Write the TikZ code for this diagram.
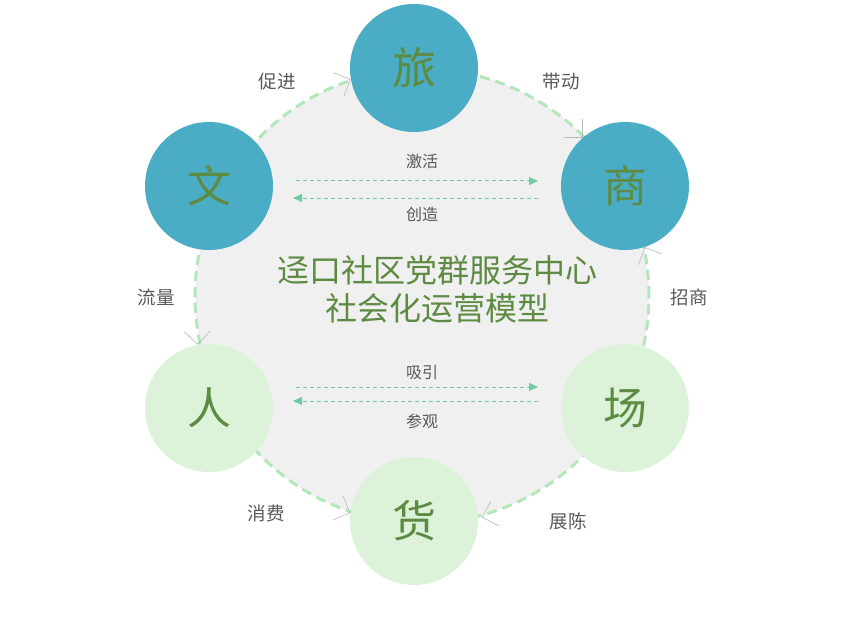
\documentclass[tikz,border=0pt]{standalone}
\usepackage{fontspec}
\setmainfont{Noto Sans CJK SC}
\usetikzlibrary{arrows.meta}
\definecolor{tealblue}{HTML}{4BACC6}
\definecolor{palegreen}{HTML}{DCF3DA}
\definecolor{hubgray}{HTML}{F0F0F0}
\definecolor{ringgreen}{HTML}{B3E6B8}
\definecolor{leafgreen}{HTML}{5E8B42}
\definecolor{mint}{HTML}{6FCBA2}
\definecolor{labelgray}{HTML}{595959}
\begin{document}
\begin{tikzpicture}[x=1pt, y=1pt,
		stage/.style={circle, minimum size=128pt, inner sep=0pt, text=leafgreen, font=\fontsize{44}{44}\selectfont},
		upper/.style={stage, fill=tealblue},
		lower/.style={stage, fill=palegreen},
		tag/.style={text=labelgray, font=\fontsize{18.5}{18.5}\selectfont},
		innertag/.style={text=labelgray, font=\fontsize{16}{16}\selectfont},
		flowtip/.style={draw=gray!55, line width=0.6pt, -{Straight Barb[length=13pt, width=26pt, line width=0.6pt]}},
		innerflow/.style={draw=mint, line width=1pt, dash pattern=on 4pt off 3pt, -{Triangle[length=9pt, width=8pt]}}]
		\useasboundingbox (0,0) rectangle (845,625);
		% Hub ring
		\node[circle, minimum size=454pt, inner sep=0pt, fill=hubgray, draw=ringgreen, line width=3pt, dash pattern=on 10pt off 6pt] (hub) at (422,329) {};
		\node[text=leafgreen, font=\fontsize{32}{38}\selectfont, align=center] (title) at (437,336) {迳口社区党群服务中心\\社会化运营模型};
		% Six stages
		\node[upper] (lv) at (414,557) {旅};
		\node[upper] (shang) at (625,439) {商};
		\node[upper] (wen) at (209,439) {文};
		\node[lower] (chang) at (625,217) {场};
		\node[lower] (huo) at (414,104) {货};
		\node[lower] (ren) at (209,217) {人};
		% Outer flows
		\coordinate (t1) at ([shift={(204:2)}]lv.190);
		\coordinate (t2) at ([shift={(135:2)}]shang.131);
		\coordinate (t3) at ([shift={(294:2)}]shang.288);
		\coordinate (t4) at ([shift={(18:6)}]huo.2);
		\coordinate (t5) at ([shift={(157:2)}]huo.173);
		\coordinate (t6) at ([shift={(92:2)}]ren.100);
		\draw[flowtip] (t1) -- (lv.190);
		\draw[flowtip] (t2) -- (shang.131);
		\draw[flowtip] (t3) -- (shang.288);
		\draw[flowtip] (t4) -- ([shift={(18:4)}]huo.2);
		\draw[flowtip] (t5) -- (huo.173);
		\draw[flowtip] (t6) -- (ren.100);
		\node[tag] (cujin) at (277,543) {促进};
		\node[tag] (daidong) at (561,543) {带动};
		\node[tag] (zhaoshang) at (689,328) {招商};
		\node[tag] (zhanchen) at (568,104) {展陈};
		\node[tag] (xiaofei) at (266,112) {消费};
		\node[tag] (liuliang) at (156,328) {流量};
		% Inner flows
		\coordinate (a1) at (296,444);
		\coordinate (a2) at (538,444);
		\coordinate (b1) at (538,427);
		\coordinate (b2) at (293,427);
		\coordinate (c1) at (296,238);
		\coordinate (c2) at (538,238);
		\coordinate (d1) at (538,224);
		\coordinate (d2) at (293,224);
		\draw[innerflow] (a1) -- (a2);
		\draw[innerflow] (b1) -- (b2);
		\draw[innerflow] (c1) -- (c2);
		\draw[innerflow] (d1) -- (d2);
		\node[innertag] (jihuo) at (422,464) {激活};
		\node[innertag] (chuangzao) at (422,411) {创造};
		\node[innertag] (xiyin) at (422,252) {吸引};
		\node[innertag] (canguan) at (422,204) {参观};
	\end{tikzpicture}
\end{document}
